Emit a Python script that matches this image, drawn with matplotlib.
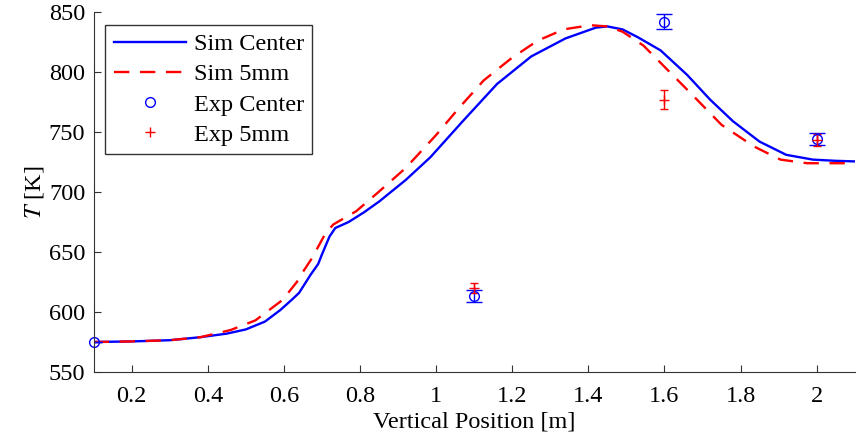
import numpy as np
import matplotlib.pyplot as plt

plt.rcParams['font.family'] = ['Liberation Serif', 'DejaVu Serif']
plt.rcParams['mathtext.fontset'] = 'stix'

# simulated profiles, vertical position [m] vs temperature [K]
center_x = [0.10, 0.20, 0.30, 0.38, 0.45, 0.50, 0.55, 0.59, 0.62, 0.64, 0.67,
            0.69, 0.70, 0.72, 0.735, 0.77, 0.81, 0.85, 0.92, 0.985, 1.07, 1.16,
            1.25, 1.34, 1.42, 1.45, 1.49, 1.53, 1.59, 1.66, 1.72, 1.78, 1.85,
            1.92, 1.99, 2.05, 2.10]
center_T = [575, 575.5, 576.5, 579, 582, 585.5, 592, 601.5, 610, 616, 631,
            640, 648, 663, 670, 675, 683, 692, 710, 729, 759, 790,
            813, 828, 837, 838, 835.5, 829, 818, 797.5, 777, 759, 742,
            731, 727, 726, 725.5]
r5_x = [0.10, 0.20, 0.30, 0.38, 0.46, 0.525, 0.59, 0.60, 0.634, 0.645, 0.674,
        0.71, 0.73, 0.79, 0.845, 0.92, 1.00, 1.06, 1.125, 1.196, 1.266, 1.336,
        1.406, 1.45, 1.49, 1.545, 1.595, 1.67, 1.75, 1.835, 1.905, 1.975,
        2.07, 2.10]
r5_T = [575, 575.5, 576.5, 579, 585, 593, 608.5, 611.5, 625, 631, 645,
        666, 673, 684, 699, 720, 747.5, 770, 793, 811, 826, 835.6,
        839, 838, 833.6, 822, 806, 782, 756, 738, 727, 724,
        724, 725]

# measurements with error bars
exp_c_x = [0.1, 1.1, 1.6, 2.0]
exp_c_T = [575, 613, 842, 744]
exp_c_err = [0, 5, 6.5, 5]
exp_5_x = [1.1, 1.6, 2.0]
exp_5_T = [620, 777, 743]
exp_5_err = [4.5, 8, 5]

fig = plt.figure(figsize=(8.59, 4.45), dpi=100)
ax = fig.add_axes([0.109, 0.164, 0.886, 0.809])

ax.plot(center_x, center_T, color='#0000ff', lw=1.7, label='Sim Center')
ax.plot(r5_x, r5_T, color='#ff0000', lw=1.7, ls=(0, (6.5, 4.5)), label='Sim 5mm')

ax.errorbar(exp_c_x, exp_c_T, yerr=exp_c_err, fmt='none', ecolor='#0000ff',
            elinewidth=1, capsize=5.5, capthick=1)
ax.errorbar(exp_5_x, exp_5_T, yerr=exp_5_err, fmt='none', ecolor='#ff0000',
            elinewidth=1, capsize=3, capthick=1)
ax.plot(exp_c_x, exp_c_T, 'o', mfc='none', mec='#0000ff', ms=7, mew=1,
        label='Exp Center', clip_on=False)
ax.plot(exp_5_x, exp_5_T, '+', color='#ff0000', ms=7, mew=1, label='Exp 5mm')

ax.set_xlim(0.1, 2.1)
ax.set_ylim(550, 850)
ax.set_xticks([0.2, 0.4, 0.6, 0.8, 1, 1.2, 1.4, 1.6, 1.8, 2])
ax.set_xticklabels(['0.2', '0.4', '0.6', '0.8', '1', '1.2', '1.4', '1.6', '1.8', '2'])
ax.set_yticks(np.arange(550, 851, 50))

for s in ['top', 'right']:
    ax.spines[s].set_visible(False)
for s in ['left', 'bottom']:
    ax.spines[s].set_color('#333333')
ax.tick_params(direction='in', length=5, labelsize=17.5, colors='#333333',
               labelcolor='black')
ax.tick_params(axis='x', pad=10)
ax.tick_params(axis='y', pad=6)

ax.set_xlabel('Vertical Position [m]', fontsize=17.5, labelpad=3)
ax.set_ylabel('$T$ [K]', fontsize=17.5, labelpad=2)

leg = ax.legend(loc='upper left', bbox_to_anchor=(0.015, 0.965), fontsize=17.5,
                frameon=True, fancybox=False, edgecolor='black',
                handlelength=3.0, borderpad=0.35, labelspacing=0.34,
                handletextpad=0.3, borderaxespad=0)
leg.get_frame().set_linewidth(1)

fig.savefig('out.png', dpi=100)
